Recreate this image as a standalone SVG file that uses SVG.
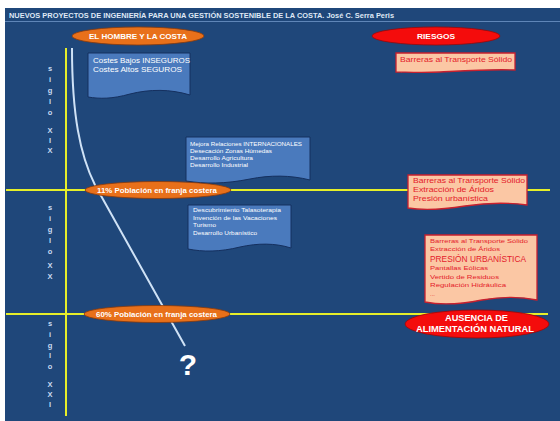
<svg xmlns="http://www.w3.org/2000/svg" width="560" height="421" viewBox="0 0 560 421">
<style>
.t{font-family:"Liberation Sans",Arial,sans-serif}
.w{fill:#ffffff}
.sig{font-family:"Liberation Sans",Arial,sans-serif;font-size:7.5px;font-weight:bold;fill:#c9dcf2;text-anchor:middle}
.bb{fill:#4a7abd;stroke:#15305f;stroke-width:1}
.pb{fill:#fbc7a4;stroke:#c8202e;stroke-width:1.3}
.bt{font-family:"Liberation Sans",Arial,sans-serif;fill:#ffffff}
.pt{font-family:"Liberation Sans",Arial,sans-serif;fill:#e4202a}
.oe{fill:#e8701a;stroke:#8a3a0a;stroke-width:0.8}
.re{fill:#f40c0c;stroke:#9a0808;stroke-width:0.8}
.yl{stroke:#e6ef2a;stroke-width:2;fill:none}
</style>
<rect x="0" y="0" width="560" height="421" fill="#ffffff"/>
<rect x="5" y="8" width="555" height="413" fill="#1f477a"/>
<line x1="5" y1="21.5" x2="560" y2="21.5" stroke="#5f86b8" stroke-width="1"/>
<text class="t" x="9" y="18" font-size="7" font-weight="bold" fill="#dfe8f5" textLength="385" lengthAdjust="spacingAndGlyphs">NUEVOS PROYECTOS DE INGENIERÍA PARA UNA GESTIÓN SOSTENIBLE DE LA COSTA. José C. Serra Peris</text>

<g id="connectors">
<line class="yl" x1="66" y1="48" x2="66" y2="416"/>
<line class="yl" x1="6" y1="190" x2="550" y2="190"/>
<line class="yl" x1="6" y1="314" x2="548" y2="314"/>
<path d="M72,48 C72,115 80,155 95,185 L185,346" fill="none" stroke="#cfe2f6" stroke-width="2"/>
</g>

<g id="siglo-xix">
<text class="sig" x="50" y="71">s</text>
<text class="sig" x="50" y="82">i</text>
<text class="sig" x="50" y="93">g</text>
<text class="sig" x="50" y="104">l</text>
<text class="sig" x="50" y="115">o</text>
<text class="sig" x="50" y="133">X</text>
<text class="sig" x="50" y="143">I</text>
<text class="sig" x="50" y="153">X</text>
</g>
<g id="siglo-xx">
<text class="sig" x="50" y="210">s</text>
<text class="sig" x="50" y="221">i</text>
<text class="sig" x="50" y="232">g</text>
<text class="sig" x="50" y="243">l</text>
<text class="sig" x="50" y="254">o</text>
<text class="sig" x="50" y="268">X</text>
<text class="sig" x="50" y="279">X</text>
</g>
<g id="siglo-xxi">
<text class="sig" x="50" y="326">s</text>
<text class="sig" x="50" y="337">i</text>
<text class="sig" x="50" y="348">g</text>
<text class="sig" x="50" y="358">l</text>
<text class="sig" x="50" y="369">o</text>
<text class="sig" x="50" y="387">X</text>
<text class="sig" x="50" y="397">X</text>
<text class="sig" x="50" y="407">I</text>
</g>

<g id="hombre-costa">
<ellipse class="oe" cx="138" cy="36" rx="66" ry="9"/>
<text class="t w" x="89" y="38.5" font-size="7" font-weight="bold" textLength="98" lengthAdjust="spacingAndGlyphs">EL HOMBRE Y LA COSTA</text>
</g>
<g id="riesgos">
<ellipse class="re" cx="436" cy="36" rx="64" ry="9"/>
<text class="t w" x="417" y="38.5" font-size="7" font-weight="bold" textLength="38" lengthAdjust="spacingAndGlyphs">RIESGOS</text>
</g>

<g id="costes">
<path class="bb" d="M88,53 H190 V95 C170,89 150,89 130,94 C112,99 100,99 88,97 Z"/>
<text class="bt" x="93" y="63" font-size="7.5" textLength="97" lengthAdjust="spacingAndGlyphs">Costes Bajos INSEGUROS</text>
<text class="bt" x="93" y="72" font-size="7.5" textLength="89" lengthAdjust="spacingAndGlyphs">Costes Altos SEGUROS</text>
</g>

<g id="mejora">
<path class="bb" d="M186,137 H310 V180 C290,175 270,175 250,179 C225,184 205,184 186,181 Z"/>
<text class="bt" x="190" y="146" font-size="5.8" textLength="112" lengthAdjust="spacingAndGlyphs">Mejora Relaciones INTERNACIONALES</text>
<text class="bt" x="190" y="153" font-size="5.8" textLength="82" lengthAdjust="spacingAndGlyphs">Desecación Zonas Húmedas</text>
<text class="bt" x="190" y="160" font-size="5.8" textLength="63" lengthAdjust="spacingAndGlyphs">Desarrollo Agricultura</text>
<text class="bt" x="190" y="167" font-size="5.8" textLength="58" lengthAdjust="spacingAndGlyphs">Desarrollo Industrial</text>
</g>

<g id="descubrimiento">
<path class="bb" d="M188,205 H291 V248 C275,243 258,243 240,247 C220,252 203,252 188,249 Z"/>
<text class="bt" x="193" y="212" font-size="5.8" textLength="88" lengthAdjust="spacingAndGlyphs">Descubrimiento Talasoterapia</text>
<text class="bt" x="193" y="219.5" font-size="5.8" textLength="84" lengthAdjust="spacingAndGlyphs">Invención de las Vacaciones</text>
<text class="bt" x="193" y="227" font-size="5.8" textLength="23" lengthAdjust="spacingAndGlyphs">Turismo</text>
<text class="bt" x="193" y="234.5" font-size="5.8" textLength="64" lengthAdjust="spacingAndGlyphs">Desarrollo Urbanístico</text>
</g>

<g id="riesgo1">
<path class="pb" d="M396,53 H515 V70 C490,69 460,71 440,72 C420,73 405,72 396,72 Z"/>
<text class="pt" x="400" y="62" font-size="7.2" textLength="112" lengthAdjust="spacingAndGlyphs">Barreras al Transporte Sólido</text>
</g>

<g id="riesgo2">
<path class="pb" d="M408,175 H527 V205 C505,202 485,203 465,206 C440,210 420,210 408,208 Z"/>
<text class="pt" x="413" y="182.5" font-size="7.5" textLength="112" lengthAdjust="spacingAndGlyphs">Barreras al Transporte Sólido</text>
<text class="pt" x="413" y="191.5" font-size="7.5" textLength="81" lengthAdjust="spacingAndGlyphs">Extracción de Áridos</text>
<text class="pt" x="413" y="200.5" font-size="7.5" textLength="75" lengthAdjust="spacingAndGlyphs">Presión urbanística</text>
</g>

<g id="riesgo3">
<path class="pb" d="M425,235 H537 V300 C518,296 500,297 482,300 C462,304 440,305 425,302 Z"/>
<text class="pt" x="430" y="243" font-size="6" textLength="98" lengthAdjust="spacingAndGlyphs">Barreras al Transporte Sólido</text>
<text class="pt" x="430" y="251" font-size="6" textLength="70" lengthAdjust="spacingAndGlyphs">Extracción de Áridos</text>
<text class="pt" x="430" y="261.5" font-size="8.5" textLength="96" lengthAdjust="spacingAndGlyphs">PRESIÓN URBANÍSTICA</text>
<text class="pt" x="430" y="270" font-size="6" textLength="58" lengthAdjust="spacingAndGlyphs">Pantallas Eólicas</text>
<text class="pt" x="430" y="278.5" font-size="6" textLength="69" lengthAdjust="spacingAndGlyphs">Vertido de Residuos</text>
<text class="pt" x="430" y="287" font-size="6" textLength="76" lengthAdjust="spacingAndGlyphs">Regulación Hidráulica</text>
<text class="pt" x="430" y="295.5" font-size="6">...</text>
</g>

<g id="poblacion11">
<ellipse class="oe" cx="158" cy="190" rx="73" ry="8.5"/>
<text class="t w" x="97" y="192.5" font-size="7.2" font-weight="bold" textLength="120" lengthAdjust="spacingAndGlyphs">11% Población en franja costera</text>
</g>
<g id="poblacion60">
<ellipse class="oe" cx="157" cy="314" rx="73" ry="8.5"/>
<text class="t w" x="96" y="316.5" font-size="7.2" font-weight="bold" textLength="121" lengthAdjust="spacingAndGlyphs">60% Población en franja costera</text>
</g>
<g id="ausencia">
<ellipse class="re" cx="477" cy="324" rx="72" ry="14"/>
<text class="t w" x="445" y="321" font-size="8.5" font-weight="bold" textLength="63" lengthAdjust="spacingAndGlyphs">AUSENCIA DE</text>
<text class="t w" x="416" y="331.5" font-size="8.5" font-weight="bold" textLength="118" lengthAdjust="spacingAndGlyphs">ALIMENTACIÓN NATURAL</text>
</g>
<g id="interrogante">
<text class="t w" x="188" y="375" font-size="30" font-weight="bold" text-anchor="middle">?</text>
</g>
</svg>
